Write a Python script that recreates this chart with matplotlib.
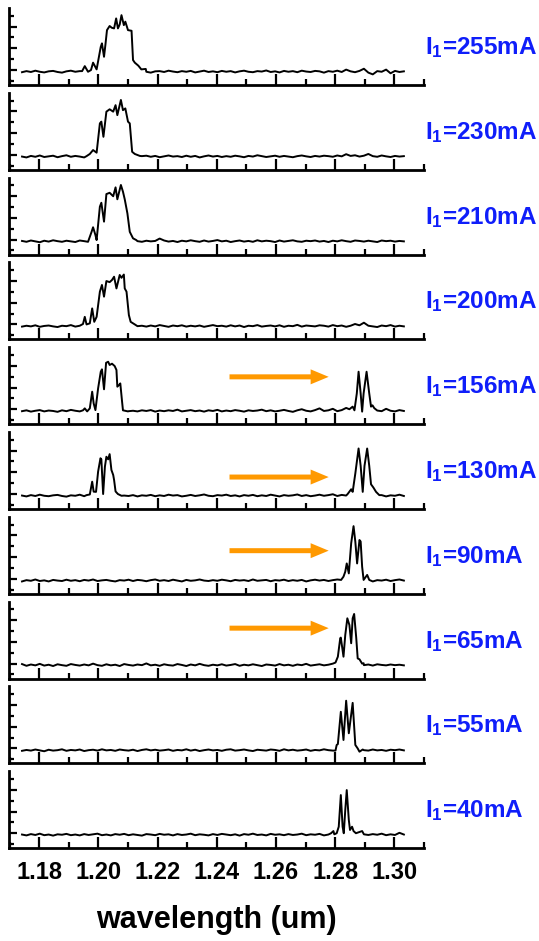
import numpy as np
import matplotlib
matplotlib.use("Agg")
import matplotlib.pyplot as plt
from matplotlib.ticker import MultipleLocator

# fonts
plt.rcParams["font.family"] = ["Liberation Sans", "DejaVu Sans"]
plt.rcParams["mathtext.fontset"] = "custom"
plt.rcParams["mathtext.bf"] = "Liberation Sans:bold"
plt.rcParams["mathtext.rm"] = "Liberation Sans:bold"

# currents for each panel (top to bottom)
currents = ["255", "230", "210", "200", "156", "130", "90", "65", "55", "40"]

# wavelength grid of the noise floor (um)
base_wl = 1.1742 + 0.0015 * np.arange(87)

# noise floor
noise1 = [-0.10,-0.05,-0.09,-0.03,-0.08,-0.11,-0.06,-0.04,-0.09,-0.12,
          -0.06,-0.03,-0.08,-0.05,-0.10,-0.07,-0.04,-0.09,-0.06,-0.11,
          -0.05,-0.08,-0.03,-0.07,-0.10,-0.06,-0.09,-0.04,-0.08,-0.12,
          -0.06,-0.05,-0.09,-0.03,-0.07,-0.10,-0.05,-0.08,-0.04,-0.11,
          -0.07,-0.03,-0.09,-0.06,-0.10,-0.04,-0.08,-0.05,-0.11,-0.06,
          -0.03,-0.08,-0.10,-0.05,-0.07,-0.02,-0.09,-0.06,-0.11,-0.04,
          -0.08,-0.05,-0.10,-0.03,-0.07,-0.09,-0.04,-0.06,-0.12,-0.05,
          -0.08,-0.03,-0.09,0.02,-0.06,-0.10,-0.04,0.06,-0.12,-0.20,
          -0.05,-0.08,0.02,-0.15,-0.04,-0.09,-0.06]
noise2 = [-0.08,-0.12,-0.05,-0.09,-0.03,-0.10,-0.07,-0.04,-0.11,-0.06,
          -0.02,-0.09,-0.05,-0.08,-0.12,-0.04,-0.07,-0.10,-0.03,-0.06,
          -0.09,-0.05,-0.11,-0.07,0.00,-0.08,-0.10,-0.06,-0.04,-0.09,
          -0.05,-0.11,-0.07,-0.03,-0.08,-0.06,-0.10,-0.04,-0.09,-0.05,
          -0.12,-0.07,-0.03,-0.08,-0.05,-0.10,-0.06,-0.09,-0.04,-0.07,
          -0.11,-0.05,-0.08,-0.02,-0.06,-0.10,-0.07,-0.04,-0.09,-0.05,
          -0.08,-0.11,-0.06,-0.03,-0.07,-0.10,-0.05,-0.08,-0.04,-0.06,
          -0.09,-0.03,-0.07,0.03,-0.05,-0.02,-0.08,-0.04,0.04,-0.06,
          -0.09,-0.03,-0.07,-0.10,-0.05,-0.08,-0.06]
noise3 = [-0.06,-0.10,-0.04,-0.08,-0.12,-0.05,-0.09,-0.03,-0.07,-0.10,
          -0.05,-0.08,-0.11,-0.04,-0.07,-0.09,-0.03,-0.06,-0.10,-0.05,
          -0.08,-0.04,-0.11,-0.06,-0.09,-0.03,-0.07,-0.10,-0.05,-0.08,
          -0.06,0.05,-0.04,-0.09,-0.06,-0.11,-0.05,-0.08,-0.03,-0.07,
          -0.10,-0.04,-0.09,-0.06,-0.02,-0.08,-0.05,-0.11,-0.07,-0.04,
          -0.09,-0.06,-0.10,-0.03,-0.08,-0.05,-0.07,-0.11,-0.04,-0.09,
          -0.06,-0.03,-0.08,-0.10,-0.05,-0.07,-0.04,-0.09,-0.06,-0.11,
          -0.05,-0.08,-0.03,-0.07,-0.10,-0.04,-0.06,-0.09,-0.05,-0.08,
          -0.11,-0.04,-0.07,-0.05,-0.09,-0.06,-0.08]
noise4 = [-0.10,-0.06,-0.09,-0.04,-0.11,-0.07,-0.05,-0.09,-0.12,-0.06,
          -0.08,-0.03,-0.10,-0.06,-0.09,-0.05,-0.11,-0.07,-0.04,-0.08,
          -0.10,-0.05,-0.09,-0.06,-0.12,-0.04,-0.08,-0.06,-0.10,-0.05,
          -0.09,-0.03,-0.07,-0.11,-0.05,-0.08,-0.04,-0.10,-0.06,-0.09,
          -0.05,-0.11,-0.07,-0.03,-0.08,-0.06,-0.10,-0.04,-0.09,-0.05,
          -0.12,-0.06,-0.08,-0.03,-0.10,-0.07,-0.05,-0.09,-0.04,-0.11,
          -0.06,-0.08,-0.02,-0.10,-0.05,-0.07,-0.09,-0.04,-0.06,-0.10,
          -0.03,-0.08,-0.05,-0.11,-0.06,0.02,-0.04,0.08,-0.06,-0.09,
          -0.12,-0.05,-0.08,-0.03,-0.10,-0.06,-0.09]
noise5 = [-0.09,-0.05,-0.11,-0.07,-0.04,-0.10,-0.06,-0.08,-0.12,-0.05,
          -0.09,-0.03,-0.07,-0.10,-0.06,-0.09,-0.04,-0.11,-0.07,-0.05,
          -0.08,-0.12,-0.06,-0.03,-0.09,-0.07,-0.10,-0.05,-0.08,-0.04,
          -0.11,-0.06,-0.09,-0.05,-0.08,-0.02,-0.10,-0.07,-0.04,-0.09,
          -0.06,-0.11,-0.05,-0.08,-0.03,-0.10,-0.06,-0.09,-0.04,-0.07,
          -0.11,-0.05,-0.08,-0.06,-0.02,-0.09,-0.05,-0.10,-0.07,-0.03,
          -0.08,-0.12,-0.05,0.00,-0.07,-0.10,-0.04,0.04,-0.08,-0.05,
          0.02,-0.09,-0.04,0.06,-0.06,-0.02,-0.05,-0.08,-0.03,-0.10,
          -0.06,-0.09,0.02,-0.07,-0.10,-0.04,-0.08]
noise6 = [-0.07,-0.11,-0.05,-0.09,-0.03,-0.08,-0.10,-0.06,-0.04,-0.09,
          -0.12,-0.06,-0.08,-0.03,-0.10,-0.05,-0.07,-0.11,-0.04,-0.08,
          -0.06,-0.10,-0.03,-0.07,-0.09,-0.05,-0.11,-0.06,-0.08,-0.04,
          -0.10,-0.06,-0.09,-0.03,-0.07,-0.05,-0.11,-0.08,-0.04,-0.09,
          -0.06,-0.02,-0.08,-0.10,-0.05,-0.07,-0.03,-0.09,-0.06,-0.11,
          -0.05,-0.08,-0.04,-0.10,-0.06,-0.09,-0.03,-0.07,-0.11,-0.05,
          -0.08,-0.06,-0.02,-0.09,-0.05,-0.10,-0.07,-0.03,-0.08,-0.05,
          -0.01,-0.09,-0.04,-0.07,0.03,-0.06,-0.02,0.05,-0.08,-0.04,
          -0.09,-0.05,-0.11,-0.06,-0.08,-0.03,-0.09]
noise7 = [-0.12,-0.06,-0.09,-0.03,-0.10,-0.07,-0.12,-0.05,-0.08,-0.10,
          -0.04,-0.09,-0.06,-0.11,-0.05,-0.08,-0.03,-0.10,-0.07,-0.05,
          -0.09,-0.12,-0.06,-0.08,-0.04,-0.10,-0.05,-0.07,-0.11,-0.06,
          -0.03,-0.09,-0.06,-0.10,-0.04,-0.08,-0.12,-0.05,-0.09,-0.07,
          -0.03,-0.08,-0.10,-0.06,-0.09,-0.04,-0.07,-0.11,-0.05,-0.08,
          -0.06,-0.10,-0.03,-0.09,-0.07,-0.05,-0.11,-0.06,-0.08,-0.04,
          -0.10,-0.06,-0.09,-0.05,-0.12,-0.07,-0.04,-0.08,-0.05,-0.10,
          -0.06,-0.03,-0.09,-0.05,-0.07,-0.02,-0.08,-0.05,-0.09,-0.12,
          -0.06,-0.08,-0.04,-0.10,-0.06,-0.03,-0.08]
noise8 = [-0.02,-0.10,-0.04,-0.08,-0.01,-0.09,-0.05,-0.11,-0.03,-0.07,
          -0.10,-0.02,-0.06,-0.09,-0.04,-0.08,0.00,-0.07,-0.10,-0.03,
          -0.08,-0.05,-0.11,-0.02,-0.06,-0.09,-0.04,-0.07,0.01,-0.08,
          -0.05,-0.10,-0.03,-0.07,-0.09,-0.02,-0.06,-0.11,-0.04,-0.08,
          -0.01,-0.07,-0.10,-0.05,-0.08,-0.03,-0.09,-0.06,-0.02,-0.10,
          -0.05,-0.08,-0.03,-0.07,-0.11,-0.04,-0.06,-0.09,-0.02,-0.08,
          -0.05,-0.10,-0.04,-0.07,-0.01,-0.09,-0.06,-0.03,-0.08,-0.05,
          -0.10,-0.02,-0.06,-0.04,-0.08,-0.05,-0.02,-0.07,-0.04,-0.09,
          -0.03,-0.06,-0.08,-0.04,-0.07,-0.05,-0.08]
noise9 = [-0.11,-0.07,-0.10,-0.05,-0.09,-0.13,-0.06,-0.10,-0.08,-0.04,
          -0.11,-0.07,-0.09,-0.05,-0.12,-0.08,-0.06,-0.10,-0.04,-0.09,
          -0.07,-0.11,-0.05,-0.08,-0.10,-0.06,-0.12,-0.07,-0.04,-0.09,
          -0.06,-0.10,-0.08,-0.05,-0.11,-0.07,-0.09,-0.04,-0.10,-0.06,
          -0.12,-0.08,-0.05,-0.09,-0.07,-0.11,-0.06,-0.04,-0.10,-0.08,
          -0.05,-0.09,-0.12,-0.06,-0.08,-0.10,-0.05,-0.07,-0.11,-0.04,
          -0.09,-0.06,-0.10,-0.08,-0.05,-0.11,-0.07,-0.09,-0.04,-0.08,
          -0.06,-0.10,-0.05,-0.09,-0.07,-0.12,-0.06,-0.08,-0.10,-0.05,
          -0.09,-0.07,-0.11,-0.06,-0.08,-0.05,-0.09]
noise10 = [-0.06,-0.10,-0.04,-0.08,-0.02,-0.09,-0.06,-0.11,-0.05,-0.07,
           -0.03,-0.09,-0.06,-0.10,-0.04,-0.08,-0.05,-0.02,-0.09,-0.06,
           -0.10,-0.04,-0.07,-0.03,-0.09,-0.05,-0.08,-0.11,-0.04,-0.06,
           -0.09,-0.03,-0.07,-0.05,-0.10,-0.04,-0.08,-0.06,-0.02,-0.09,
           -0.05,-0.07,-0.10,-0.04,-0.08,-0.03,-0.06,-0.09,-0.05,-0.11,
           -0.04,-0.07,-0.02,-0.08,-0.06,-0.10,-0.03,-0.07,-0.05,-0.09,
           -0.04,-0.08,-0.06,-0.02,-0.09,-0.05,-0.07,-0.03,-0.10,-0.06,
           -0.04,-0.08,0.00,-0.06,-0.03,-0.09,0.01,-0.05,-0.08,-0.04,
           -0.07,-0.02,-0.09,-0.05,-0.08,0.02,-0.06]

# peak regions (wavelength, intensity) per panel
pk1_wl = [1.1945,1.1954,1.1965,1.1975,1.1982,1.1994,1.2008,1.2012,1.2019,1.2024,1.2029,1.2038,1.2045,1.2053,
          1.2060,1.2066,1.2072,1.2078,1.2086,1.2091,1.2100,1.2112,1.2117,1.2123,1.2135,1.2145,1.2160]
pk1_v = [-0.05,0.18,-0.08,0.00,0.34,0.03,1.07,1.23,0.61,1.20,1.84,2.03,1.95,1.92,
         2.38,1.92,2.10,2.53,2.07,2.23,1.84,1.81,0.46,0.34,0.20,0.03,0.05]
pk2_wl = [1.1960,1.1971,1.1982,1.1994,1.2005,1.2010,1.2017,1.2027,1.2038,1.2050,1.2058,1.2064,1.2076,
          1.2083,1.2091,1.2100,1.2106,1.2114,1.2123,1.2140]
pk2_v = [-0.06,0.04,0.22,0.10,1.45,1.53,0.83,1.99,2.10,1.99,2.29,1.83,2.53,
         2.06,2.14,1.53,1.45,0.14,0.04,-0.05]
pk3_wl = [1.1965,1.1977,1.1982,1.1990,1.1994,1.2005,1.2010,1.2019,1.2027,1.2038,1.2050,1.2058,1.2064,
          1.2076,1.2083,1.2089,1.2098,1.2106,1.2117,1.2128]
pk3_v = [-0.10,0.36,0.57,0.21,-0.02,1.52,1.70,0.83,2.10,2.16,2.00,2.41,1.86,
         2.52,2.21,1.86,1.21,0.36,0.06,-0.02]
pk4_wl = [1.1948,1.1954,1.1960,1.1971,1.1979,1.1986,1.1994,1.2005,1.2012,1.2019,1.2027,1.2038,1.2046,
          1.2053,1.2061,1.2072,1.2078,1.2086,1.2089,1.2095,1.2103,1.2109,1.2123]
pk4_v = [0.02,0.35,0.00,0.05,0.74,0.12,0.35,1.51,1.82,1.28,2.00,1.95,2.05,
         2.20,1.66,2.28,2.15,2.30,1.66,1.51,0.43,0.12,0.00]
pk5a_wl = [1.1948,1.1954,1.1962,1.1971,1.1979,1.1984,1.1990,1.1999,1.2008,1.2012,1.2019,1.2026,1.2033,
           1.2038,1.2046,1.2055,1.2061,1.2064,1.2070,1.2074,1.2080,1.2083,1.2100]
pk5a_v = [-0.05,0.04,-0.10,0.04,0.81,0.27,-0.04,0.96,1.73,1.84,0.92,2.14,2.19,
          2.04,2.10,1.99,1.81,1.04,1.12,1.19,0.35,-0.05,-0.10]
pk5b_wl = [1.2848,1.2859,1.2865,1.2873,1.2879,1.2886,1.2891,1.2896,1.2906,1.2915,1.2921,1.2926,1.2932]
pk5b_v = [0.00,0.12,-0.05,0.73,1.73,0.73,-0.11,0.73,1.73,0.73,0.12,0.18,0.05]
pk6a_wl = [1.1960,1.1971,1.1979,1.1984,1.1992,1.1999,1.2007,1.2010,1.2016,1.2022,1.2027,1.2033,1.2038,
           1.2044,1.2050,1.2053,1.2058,1.2066,1.2078]
pk6a_v = [-0.05,-0.02,0.57,0.11,0.10,1.03,1.65,1.60,0.00,1.26,1.72,1.60,1.84,
          1.11,0.88,0.65,0.12,0.00,-0.08]
pk6b_wl = [1.2842,1.2854,1.2859,1.2868,1.2879,1.2886,1.2893,1.2899,1.2908,1.2915,1.2921,1.2929,1.2938,1.2949]
pk6b_v = [0.00,0.22,0.10,0.95,2.10,1.30,0.10,1.30,2.10,1.30,0.45,0.30,0.10,-0.05]
pk7_wl = [1.2820,1.2828,1.2834,1.2839,1.2846,1.2854,1.2862,1.2868,1.2874,1.2882,1.2886,1.2891,1.2896,
          1.2908,1.2915]
pk7_v = [-0.05,0.10,0.33,0.71,0.25,1.64,2.43,1.71,0.71,1.79,1.72,0.56,-0.05,0.18,-0.05]
pk8_wl = [1.2792,1.2801,1.2809,1.2817,1.2819,1.2828,1.2834,1.2841,1.2848,1.2854,1.2859,1.2864,1.2871,
          1.2876,1.2882,1.2891,1.2896]
pk8_v = [0.00,0.05,0.32,1.17,1.20,0.32,1.32,2.09,1.78,0.94,2.09,2.29,1.20,0.24,0.20,0.00,0.02]
pk9_wl = [1.2792,1.2801,1.2805,1.2809,1.2819,1.2828,1.2837,1.2846,1.2859,1.2868,1.2876,1.2882,1.2893]
pk9_v = [-0.10,-0.10,0.16,0.20,1.69,0.39,2.20,0.70,2.10,0.16,0.00,-0.15,-0.05]
pk10_wl = [1.2786,1.2794,1.2797,1.2805,1.2812,1.2819,1.2825,1.2829,1.2834,1.2839,1.2846,1.2850,1.2857,
           1.2862,1.2870,1.2891]
pk10_v = [0.00,0.10,-0.05,0.00,0.30,1.76,0.30,0.00,1.07,1.99,0.61,0.15,0.30,0.10,0.00,0.10]

noises = [noise1, noise2, noise3, noise4, noise5, noise6, noise7, noise8, noise9, noise10]
peaks = [[(pk1_wl, pk1_v)], [(pk2_wl, pk2_v)], [(pk3_wl, pk3_v)], [(pk4_wl, pk4_v)],
         [(pk5a_wl, pk5a_v), (pk5b_wl, pk5b_v)], [(pk6a_wl, pk6a_v), (pk6b_wl, pk6b_v)],
         [(pk7_wl, pk7_v)], [(pk8_wl, pk8_v)], [(pk9_wl, pk9_v)], [(pk10_wl, pk10_v)]]

# orange arrows: panel index -> height (axes fraction)
arrow_panels = [4, 5, 6, 7]
arrow_y = [0.615, 0.415, 0.56, 0.655]
arrow_start = 1.2443
arrow_end = 1.2778


def trace(noise, segs):
    wl = []
    v = []
    for x, y in zip(base_wl, noise):
        if any(s[0][0] <= x <= s[0][-1] for s in segs):
            continue
        wl.append(x)
        v.append(y)
    for s in segs:
        wl += list(s[0])
        v += list(s[1])
    order = np.argsort(wl)
    return np.array(wl)[order], np.array(v)[order]


fig = plt.figure(figsize=(5.39, 9.41), dpi=100)
W, H = 539.0, 941.0

for i in range(10):
    bot = 85 + 84.8 * i
    ax = fig.add_axes([9 / W, 1 - bot / H, 415 / W, 77 / H])
    ax.patch.set_alpha(0)
    x, y = trace(noises[i], peaks[i])
    ax.plot(x, y, color="black", lw=1.4)
    ax.set_xlim(1.1698, 1.3100)
    ax.set_ylim(-0.69, 2.86)
    for s in ["top", "right"]:
        ax.spines[s].set_visible(False)
    for s in ["left", "bottom"]:
        ax.spines[s].set_linewidth(2.0)
    ax.xaxis.set_major_locator(MultipleLocator(0.02))
    ax.xaxis.set_minor_locator(MultipleLocator(0.01))
    ax.yaxis.set_major_locator(MultipleLocator(1))
    ax.yaxis.set_minor_locator(MultipleLocator(0.5))
    ax.tick_params(axis="x", which="major", direction="in", length=8, width=1.6, labelsize=17, pad=9)
    ax.tick_params(axis="x", which="minor", direction="in", length=4.3, width=1.6)
    ax.tick_params(axis="y", which="major", direction="in", length=6, width=1.6, labelleft=False)
    ax.tick_params(axis="y", which="minor", direction="in", length=3.5, width=1.6)
    if i < 9:
        ax.tick_params(axis="x", labelbottom=False)
    else:
        ax.set_xticks([1.18, 1.20, 1.22, 1.24, 1.26, 1.28, 1.30])
        ax.set_xticklabels(["1.18", "1.20", "1.22", "1.24", "1.26", "1.28", "1.30"], fontweight="bold")
        ax.set_xlabel("wavelength (um)", fontsize=22, fontweight="bold", labelpad=15)
    ax.text(1.002, 0.40, r"$\mathbf{I_1}$=" + currents[i] + "mA", transform=ax.transAxes,
            ha="left", va="baseline", color="#0F1EFA", fontsize=17.5, fontweight="bold",
            clip_on=False)
    if i in arrow_panels:
        yf = arrow_y[arrow_panels.index(i)]
        ax.annotate("", xy=(arrow_end, yf), xytext=(arrow_start, yf),
                    xycoords=("data", "axes fraction"), textcoords=("data", "axes fraction"),
                    arrowprops=dict(arrowstyle="simple,head_length=1.3,head_width=1.08,tail_width=0.36",
                                    mutation_scale=10, color="#FF9900", lw=0, shrinkA=0, shrinkB=0))

fig.savefig("out.png", dpi=100)
